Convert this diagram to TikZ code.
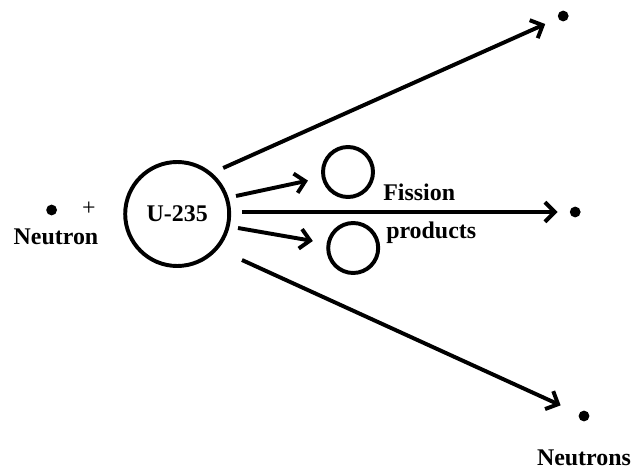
\documentclass[tikz,border=0pt]{standalone}
\usepackage{fontspec}
\setmainfont{Liberation Serif}
\usetikzlibrary{arrows.meta}

\begin{document}
\begin{tikzpicture}[
        grueso/.style={line width=2.8pt},
        flecha/.style={grueso, -{Straight Barb[length=7pt, width=14pt]}},
        particula/.style={circle, fill=black, inner sep=0pt, minimum size=0.27cm},
        etiqueta/.style={font=\fontsize{17}{20}\selectfont\bfseries}
    ]
        \useasboundingbox (0,0) rectangle (15.9,-11.75);

        % Neutron incidente
        \node[particula] (neutron) at (1.29,-5.25) {};
        \node[font=\fontsize{17}{20}\selectfont] (mas) at (2.22,-5.22) {+};
        \node[etiqueta] (tneutron) at (1.4,-5.92) {Neutron};

        % Nucleo de uranio
        \node[etiqueta, grueso, draw, circle, minimum size=2.6cm, inner sep=0pt] (u235) at (4.43,-5.35) {U-235};

        % Productos de fision
        \node[grueso, draw, circle, minimum size=1.25cm] (frag1) at (8.7,-4.3) {};
        \node[grueso, draw, circle, minimum size=1.25cm] (frag2) at (8.83,-6.2) {};
        \node[etiqueta] (tfission) at (10.48,-4.82) {Fission};
        \node[etiqueta] (tproducts) at (10.78,-5.82) {products};

        % Neutrones emitidos
        \node[particula] (n1) at (14.08,-0.4) {};
        \node[particula] (n2) at (14.38,-5.3) {};
        \node[particula] (n3) at (14.6,-10.4) {};
        \node[etiqueta, inner sep=1pt] (tneutrons) at (14.6,-11.45) {Neutrons};

        % Salidas desde el nucleo
        \coordinate (s1) at (5.58,-4.2);
        \coordinate (s2) at (5.9,-4.9);
        \coordinate (s3) at (6.05,-5.3);
        \coordinate (s4) at (5.95,-5.7);
        \coordinate (s5) at (6.05,-6.5);

        % Flechas
        \draw[flecha, shorten >=0.35cm] (s1) -- (n1);
        \draw[flecha, shorten >=0.35cm] (s2) -- (frag1);
        \draw[flecha, shorten >=0.3cm] (s3) -- (n2);
        \draw[flecha, shorten >=0.35cm] (s4) -- (frag2);
        \draw[flecha, shorten >=0.5cm] (s5) -- (n3);
    \end{tikzpicture}
\end{document}
